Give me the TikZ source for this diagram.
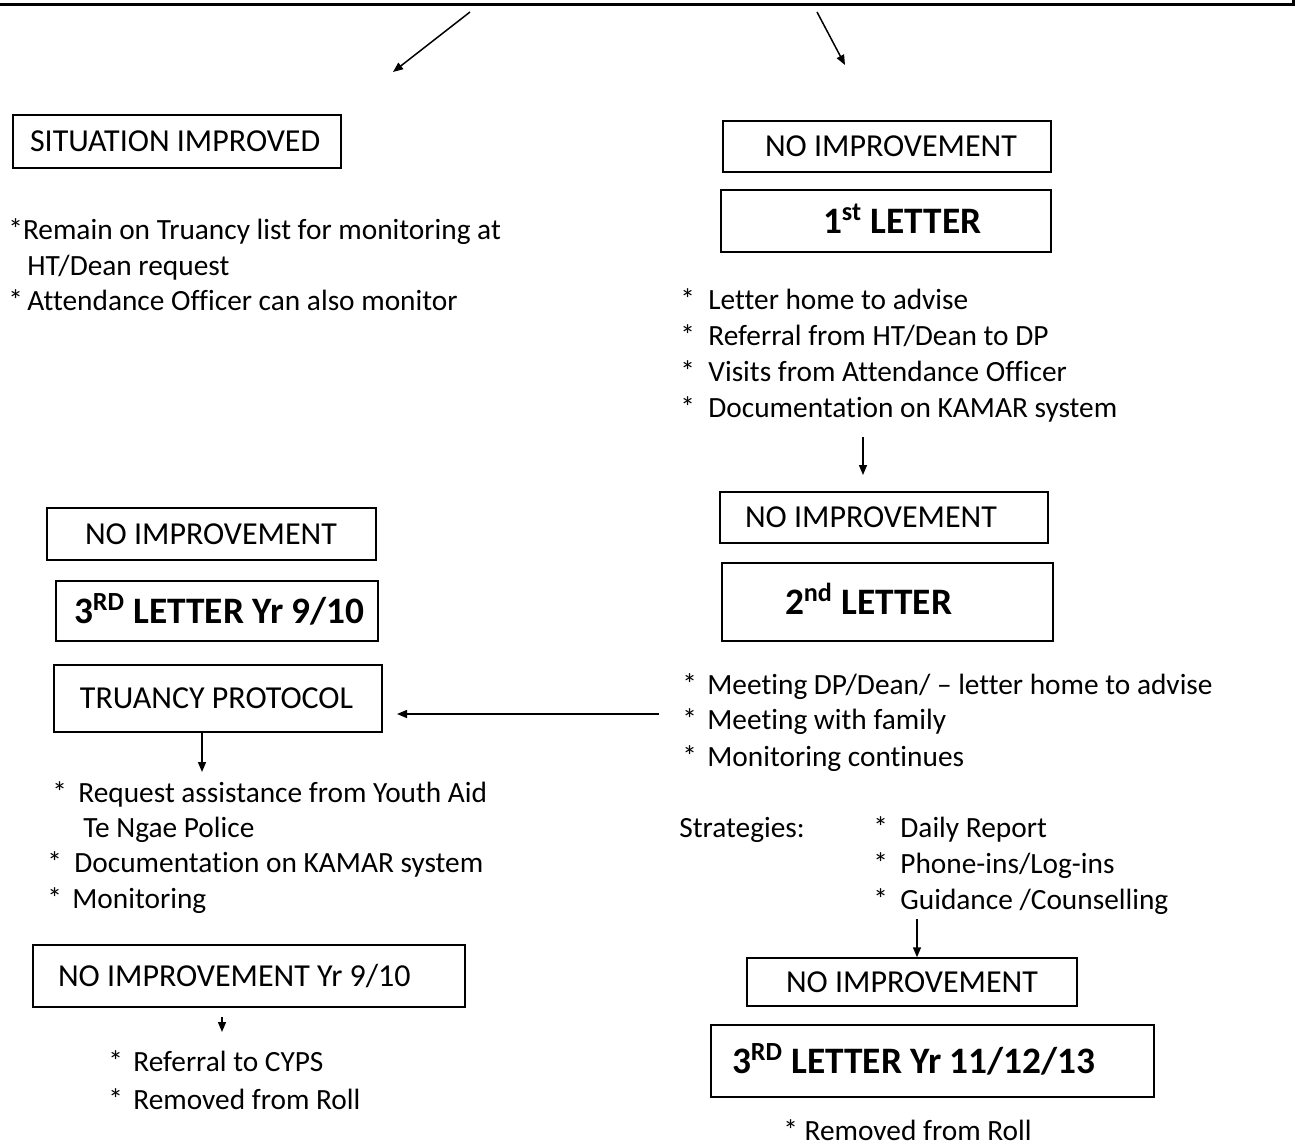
\documentclass[tikz,border=0pt]{standalone}
\usepackage{fontspec}
\setmainfont{Carlito}[Ligatures=NoCommon]
\usetikzlibrary{arrows.meta,calc}
\newcommand\bul[1]{\makebox[#1][l]{*}}
\tikzset{
 box/.style={draw, line width=0.75pt, inner xsep=0pt, inner ysep=0pt, align=flush left,
   font=\fontsize{16}{19}\selectfont, text height=10.3pt, text depth=0pt},
 boldbox/.style={box, font=\fontsize{18.67}{22}\selectfont\bfseries, text height=12pt},
 txt/.style={anchor=west, inner sep=0pt, font=\fontsize{14.67}{17}\selectfont, text height=9.45pt, text depth=0pt},
 arr/.style={line width=0.75pt, -{Triangle[length=5pt,width=4pt]}},
}
\begin{document}
\begin{tikzpicture}[x=0.5pt,y=-0.5pt]
\useasboundingbox (0,0) rectangle (1295,1146);
% fragment of the box above
\draw[line width=1.5pt] (0,4) -- (1293,4) -- (1293,0);
% top arrows
\coordinate (s1) at (470,12); \coordinate (t1) at (393,72);
\coordinate (s2) at (817,12); \coordinate (t2) at (845,65);
\draw[arr] (s1) -- (t1);
\draw[arr] (s2) -- (t2);
% left top
\node[box, text width=164pt, minimum height=26.5pt] (sit) at (177,141.5) {\hspace*{8.5pt}SITUATION IMPROVED};
\node[txt] (r1) at (8,230) {*Remain on Truancy list for monitoring at};
\node[txt] (r2) at (27,266) {HT/Dean request};
\node[txt] (r3) at (8,301) {\bul{9.5pt}Attendance Officer can also monitor};
% right column
\node[box, text width=164pt, minimum height=25.5pt] (ni1) at (887,146.5) {\hspace*{21pt}NO IMPROVEMENT};
\node[boldbox, text width=165pt, minimum height=31pt] (l1) at (886,221) {\hspace*{51pt}1\textsuperscript{st} LETTER};
\node[txt] (b1) at (680,300) {\bul{14pt}Letter home to advise};
\node[txt] (b2) at (680,336) {\bul{14pt}Referral from HT/Dean to DP};
\node[txt] (b3) at (680,372) {\bul{14pt}Visits from Attendance Officer};
\node[txt] (b4) at (680,408) {\bul{14pt}Documentation on KAMAR system};
\coordinate (a3s) at (863,437); \coordinate (a3e) at (863,475);
\draw[arr] (a3s) -- (a3e);
\node[box, text width=164pt, minimum height=25.5pt] (ni2) at (884,517.5) {\hspace*{12.5pt}NO IMPROVEMENT};
\node[boldbox, text width=165.5pt, minimum height=39pt] (l2) at (887.5,602) {\hspace*{31.5pt}2\textsuperscript{nd} LETTER};
\node[txt] (m1) at (682,685) {\bul{12.5pt}Meeting DP/Dean/ – letter home to advise};
\node[txt] (m2) at (682,720) {\bul{12.5pt}Meeting with family};
\node[txt] (m3) at (682,757) {\bul{12.5pt}Monitoring continues};
\node[txt] (st) at (679,828) {Strategies:};
\node[txt] (st1) at (873,828) {\bul{13.5pt}Daily Report};
\node[txt] (st2) at (873,864) {\bul{13.5pt}Phone-ins/Log-ins};
\node[txt] (st3) at (873,900) {\bul{13.5pt}Guidance /Counselling};
\node[box, text width=165pt, minimum height=24pt] (ni4) at (912,982) {\hspace*{19.5pt}NO IMPROVEMENT};
\coordinate (g1) at (917,919);
\draw[arr] (g1) -- (g1 |- ni4.north);
\node[boldbox, text width=221.5pt, minimum height=36pt] (l3b) at (932.5,1061) {\hspace*{10.5pt}3\textsuperscript{RD} LETTER Yr 11/12/13};
\node[txt] (rr) at (783,1131) {* Removed from Roll};
% left column
\node[box, text width=164.5pt, minimum height=26pt] (ni3) at (211.5,534) {\hspace*{19pt}NO IMPROVEMENT};
\node[boldbox, text width=161pt, minimum height=30pt] (l3a) at (217,611) {\hspace*{9pt}3\textsuperscript{RD} LETTER Yr 9/10};
\node[box, text width=164pt, minimum height=33.5pt] (tp) at (218,698.5) {\hspace*{13pt}TRUANCY PROTOCOL};
\coordinate (hs) at (659,714); \coordinate (he) at (397,714);
\draw[arr] (hs) -- (he);
\coordinate (a4) at (202,772);
\draw[arr] (a4 |- tp.south) -- (a4);
\node[txt] (q1) at (52,793) {\bul{13pt}Request assistance from Youth Aid};
\node[txt] (q2) at (83,828) {Te Ngae Police};
\node[txt] (q3) at (47,863) {\bul{13.5pt}Documentation on KAMAR system};
\node[txt] (q4) at (47,899) {\bul{12.5pt}Monitoring};
\node[box, text width=216pt, minimum height=31pt] (ni5) at (249,976) {\hspace*{12.5pt}NO IMPROVEMENT Yr 9/10};
\coordinate (a5s) at (222,1017); \coordinate (a5e) at (222,1032);
\draw[arr] (a5s) -- (a5e);
\node[txt] (c1) at (108,1062) {\bul{12.5pt}Referral to CYPS};
\node[txt] (c2) at (108,1100) {\bul{12.5pt}Removed from Roll};
\end{tikzpicture}
\end{document}
